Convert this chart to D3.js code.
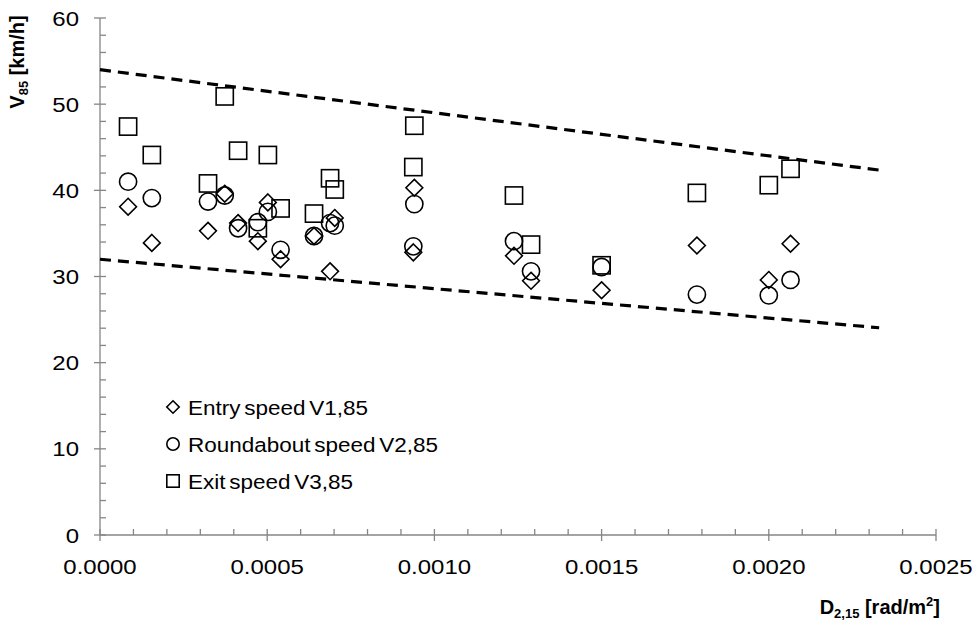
<!DOCTYPE html>
<html><head><meta charset="utf-8">
<script src="https://cdn.jsdelivr.net/npm/d3@7"></script>
<style>
body{margin:0;background:#fff;}
text{font-family:"Liberation Sans",Arial,sans-serif;}
</style></head><body>
<svg id="c" width="974" height="623"></svg>
<script>
// Data
const sitesD = [0.000084, 0.000155, 0.000323, 0.000373, 0.000413, 0.000472, 0.000502, 0.00054, 0.00064, 0.000688, 0.000702, 0.00094, 0.000937, 0.001238, 0.001289, 0.0015, 0.001785, 0.002, 0.002065];
const entrySpeed = [38.1, 33.9, 35.3, 39.6, 36.2, 34.1, 38.6, 32.0, 34.7, 30.6, 36.8, 40.3, 32.8, 32.4, 29.5, 28.4, 33.6, 29.6, 33.8];
const roundaboutSpeed = [41.0, 39.1, 38.7, 39.4, 35.6, 36.3, 37.5, 33.1, 34.7, 36.2, 35.9, 38.4, 33.5, 34.1, 30.6, 31.1, 27.9, 27.8, 29.6];
const exitSpeed = [47.4, 44.1, 40.8, 50.9, 44.6, 35.6, 44.1, 37.9, 37.3, 41.4, 40.1, 47.5, 42.7, 39.4, 33.7, 31.3, 39.7, 40.6, 42.5];
const boundX = [0, 0.00233];
const upperBound = [54, 42.35];
const lowerBound = [32, 24.05];
const xTicks = [0, 0.0005, 0.001, 0.0015, 0.002, 0.0025];
const yTicks = [0, 10, 20, 30, 40, 50, 60];
const legendLabels = ["Entry speed V1,85", "Roundabout speed V2,85", "Exit speed V3,85"];

const svg = d3.select("#c");
const x = d3.scaleLinear().domain([0, 0.0025]).range([100, 936]);
const y = d3.scaleLinear().domain([0, 60]).range([535, 18]);
const axisCol = "#868686";

// squished text helper (text in the reference is wide and short)
function sText(sel, tx, ty, str, anchor, fs, sy) {
  return sel.append("text")
    .attr("transform", `translate(${tx},${ty}) scale(1,${sy || 0.875})`)
    .attr("text-anchor", anchor || "start")
    .attr("font-size", fs || 24).attr("fill", "#000").text(str);
}

// Y axis
const g = svg.append("g");
g.append("line").attr("x1", x(0)).attr("x2", x(0)).attr("y1", y(0)).attr("y2", y(60)).attr("stroke", axisCol).attr("stroke-width", 1.3);
d3.range(0, 61, 2).forEach(v => {
  const major = v % 10 === 0;
  g.append("line").attr("x1", major ? x(0) - 6 : x(0)).attr("x2", x(0) + 6)
    .attr("y1", y(v)).attr("y2", y(v)).attr("stroke", axisCol).attr("stroke-width", 1.3);
});
yTicks.forEach(d => sText(g, 79, y(d) + 7.5, d, "end"));

// X axis
g.append("line").attr("x1", x(0)).attr("x2", x(0.0025)).attr("y1", y(0)).attr("y2", y(0)).attr("stroke", axisCol).attr("stroke-width", 1.3);
d3.range(0, 26).forEach(i => {
  const v = i * 0.0001;
  const major = i % 5 === 0;
  g.append("line").attr("x1", x(v)).attr("x2", x(v))
    .attr("y1", y(0) - 6).attr("y2", major ? y(0) + 6 : y(0)).attr("stroke", axisCol).attr("stroke-width", 1.3);
});
xTicks.forEach(d => sText(g, x(d), 574, d.toFixed(4), "middle"));

// Axis titles
const yt = svg.append("text").attr("transform", "translate(24,62) rotate(-90)")
  .attr("text-anchor", "middle").attr("font-size", 20).attr("font-weight", "bold");
yt.append("tspan").text("V");
yt.append("tspan").attr("font-size", 13).attr("dy", 4).text("85");
yt.append("tspan").attr("dy", -4).text(" [km/h]");

const xt = svg.append("text").attr("x", 940).attr("y", 614)
  .attr("text-anchor", "end").attr("font-size", 20).attr("font-weight", "bold");
xt.append("tspan").text("D");
xt.append("tspan").attr("font-size", 13).attr("dy", 4).text("2,15");
xt.append("tspan").attr("dy", -4).text(" [rad/m");
xt.append("tspan").attr("font-size", 13).attr("dy", -8).text("2");
xt.append("tspan").attr("dy", 8).text("]");

// Bound lines
const line = d3.line().x(d => x(d[0])).y(d => y(d[1]));
[upperBound, lowerBound].forEach(b => {
  svg.append("path").datum(boundX.map((v, i) => [v, b[i]])).attr("d", line)
    .attr("fill", "none").attr("stroke", "#000").attr("stroke-width", 3.2)
    .attr("stroke-dasharray", "11,7");
});

// Markers
const sw = 1.6;
function diamond(sel, cx, cy, h) {
  sel.append("path").attr("d", `M${cx},${cy - h}L${cx + h},${cy}L${cx},${cy + h}L${cx - h},${cy}Z`)
    .attr("fill", "none").attr("stroke", "#000").attr("stroke-width", sw);
}
function circle(sel, cx, cy, r) {
  sel.append("circle").attr("cx", cx).attr("cy", cy).attr("r", r)
    .attr("fill", "none").attr("stroke", "#000").attr("stroke-width", sw);
}
function square(sel, cx, cy, h) {
  sel.append("rect").attr("x", cx - h).attr("y", cy - h).attr("width", 2 * h).attr("height", 2 * h)
    .attr("fill", "none").attr("stroke", "#000").attr("stroke-width", sw);
}
const pts = svg.append("g");
sitesD.forEach((d, i) => square(pts, x(d), y(exitSpeed[i]), 8.6));
sitesD.forEach((d, i) => circle(pts, x(d), y(roundaboutSpeed[i]), 8.6));
sitesD.forEach((d, i) => diamond(pts, x(d), y(entrySpeed[i]), 8.4));

// Legend
const lg = svg.append("g");
const legY = [407, 444, 481];
diamond(lg, 173, legY[0], 6.2);
circle(lg, 173, legY[1], 6.2);
square(lg, 173, legY[2], 6.2);
legendLabels.forEach((t, i) => {
  sText(lg, 188, legY[i] + 7.5, t, "start", 22.5, 0.93).attr("word-spacing", -2.5);
});
</script>
</body></html>
